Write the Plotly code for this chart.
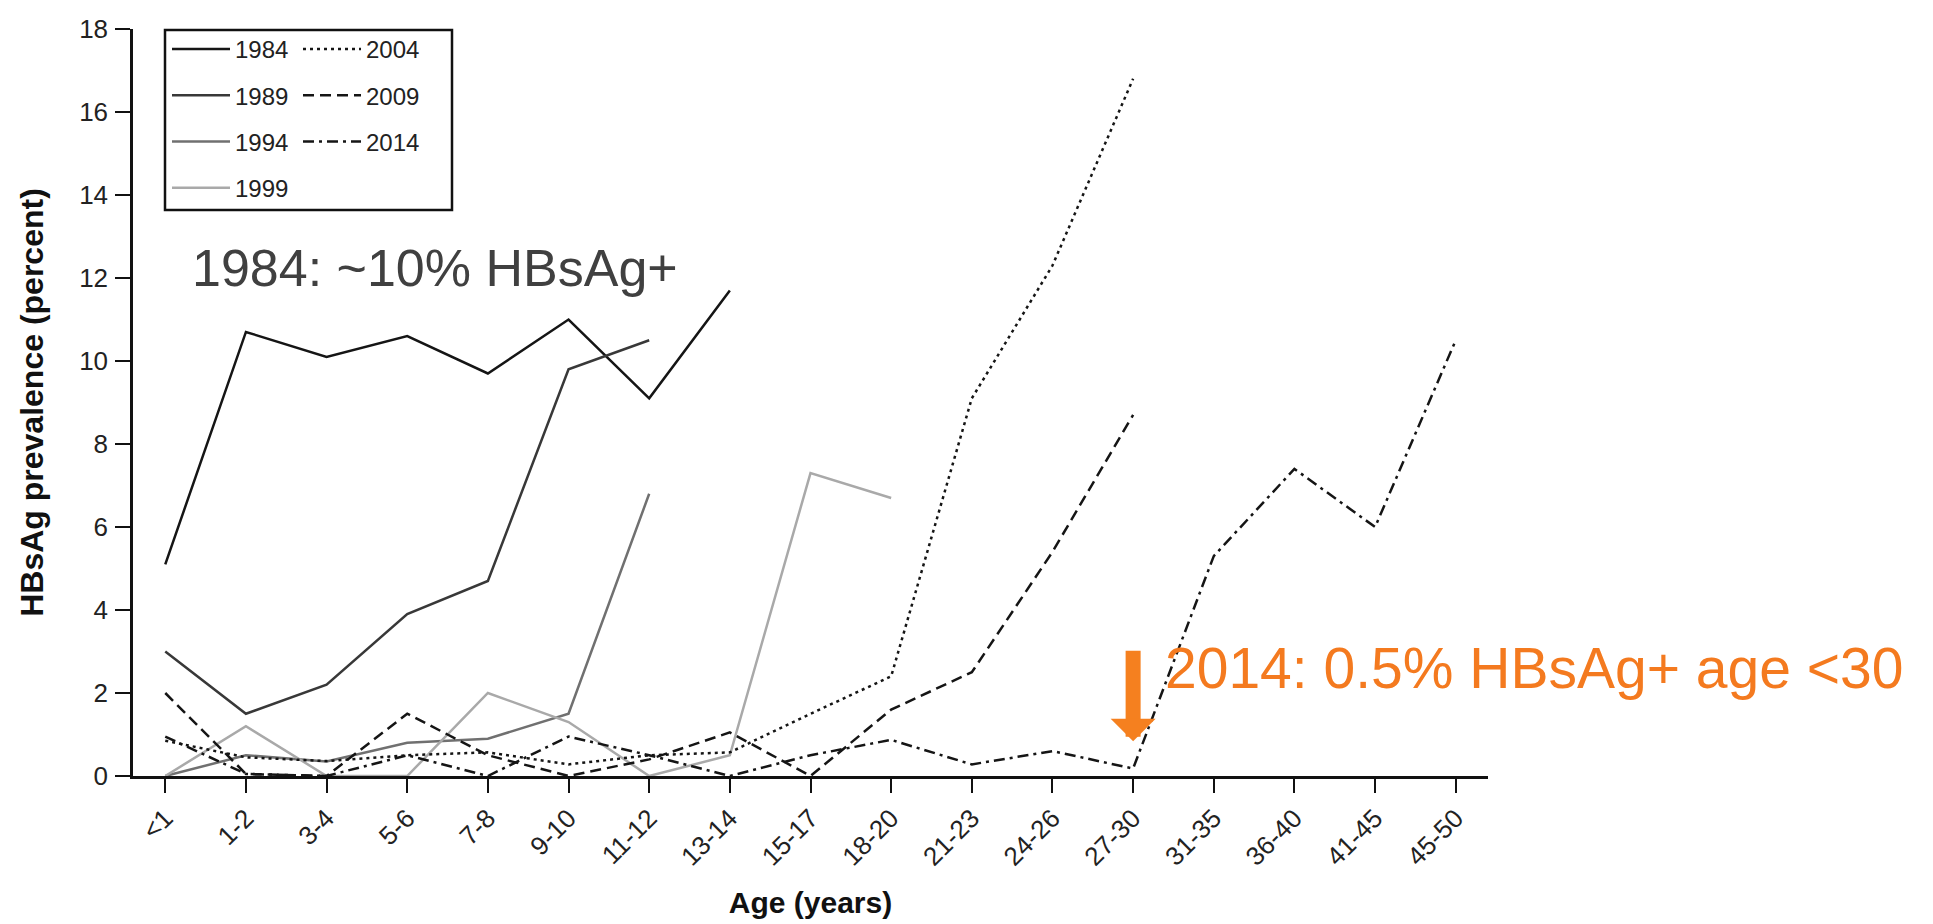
import plotly.graph_objects as go

categories = ["<1", "1-2", "3-4", "5-6", "7-8", "9-10", "11-12", "13-14", "15-17",
              "18-20", "21-23", "24-26", "27-30", "31-35", "36-40", "41-45", "45-50"]

y1984 = [5.1, 10.7, 10.1, 10.6, 9.7, 11.0, 9.1, 11.7]
y1989 = [3.0, 1.5, 2.2, 3.9, 4.7, 9.8, 10.5]
y1994 = [0.0, 0.5, 0.35, 0.8, 0.9, 1.5, 6.8]
y1999 = [0.0, 1.2, 0.0, 0.0, 2.0, 1.3, 0.0, 0.5, 7.3, 6.7]
y2004 = [0.85, 0.45, 0.36, 0.5, 0.57, 0.28, 0.5, 0.57, 1.5, 2.4, 9.1, 12.3, 16.8]
y2009 = [2.0, 0.05, 0.0, 1.5, 0.5, 0.0, 0.4, 1.05, 0.0, 1.6, 2.5, 5.4, 8.7]
y2014 = [0.95, 0.05, 0.0, 0.5, 0.0, 0.95, 0.5, 0.0, 0.5, 0.87, 0.28, 0.6, 0.18,
         5.3, 7.4, 6.0, 10.5]

series = [
    ("1984", y1984, "#151515", "solid", "legend"),
    ("1989", y1989, "#383838", "solid", "legend"),
    ("1994", y1994, "#707070", "solid", "legend"),
    ("1999", y1999, "#a9a9a9", "solid", "legend"),
    ("2004", y2004, "#151515", "3px,4px", "legend2"),
    ("2009", y2009, "#151515", "11px,6px", "legend2"),
    ("2014", y2014, "#151515", "11px,5px,3px,5px", "legend2"),
]

FONT = "Liberation Sans, Arial, Helvetica, sans-serif"

fig = go.Figure()
for name, vals, color, dash, leg in series:
    fig.add_trace(go.Scatter(
        x=categories[:len(vals)], y=vals, name=name, mode="lines",
        line=dict(color=color, width=2.5, dash=dash),
        legend=leg, legendgroup=name,
    ))

W, H = 1933, 924
L, R, T, B = 125, 453, 21, 156
pw, ph = W - L - R, H - T - B

def px_x(p):
    return (p - L) / pw

def px_y(p):
    return (H - B - p) / ph

legend_common = dict(yanchor="top", xanchor="left", bgcolor="rgba(0,0,0,0)", borderwidth=0,
                     font=dict(size=24, color="#222222"), tracegroupgap=12,
                     traceorder="grouped", itemwidth=58)

fig.update_layout(
    width=W, height=H,
    margin=dict(l=L, r=R, t=T, b=B, autoexpand=False),
    paper_bgcolor="white", plot_bgcolor="white",
    font=dict(family=FONT, color="#222222"),
    legend=dict(x=px_x(159), y=px_y(19), **legend_common),
    legend2=dict(x=px_x(290), y=px_y(19), **legend_common),
    showlegend=True,
)

fig.update_xaxes(
    type="category", categoryorder="array", categoryarray=categories,
    range=[-0.4, 16.4], showgrid=False, zeroline=False,
    showline=True, linecolor="#111111", linewidth=2.5,
    ticks="outside", ticklen=14, tickwidth=2, tickcolor="#111111",
    tickangle=-45, tickfont=dict(size=26, color="#222222"),
    title=dict(text="<b>Age (years)</b>", font=dict(size=30, color="#111111"), standoff=22),
    automargin=False,
)
fig.update_yaxes(
    range=[0, 18], tickvals=list(range(0, 19, 2)), showgrid=False, zeroline=False,
    showline=True, linecolor="#111111", linewidth=2.5,
    ticks="outside", ticklen=15, tickwidth=2, tickcolor="#111111",
    tickfont=dict(size=26, color="#222222"), ticklabelstandoff=2,
    title=dict(text="<b>HBsAg prevalence (percent)</b>", font=dict(size=32, color="#111111"), standoff=26),
    automargin=False,
)

# legend border
fig.add_shape(type="rect", xref="paper", yref="paper",
              x0=px_x(157), x1=px_x(444), y0=px_y(202), y1=px_y(22),
              line=dict(color="#111111", width=2.5))

fig.add_annotation(text="1984: ~10% HBsAg+", xref="paper", yref="paper",
                   x=px_x(182), y=px_y(260), xanchor="left", yanchor="middle",
                   showarrow=False, font=dict(size=52, color="#404040", family=FONT))
fig.add_annotation(text="2014: 0.5% HBsAg+ age <30", xref="paper", yref="paper",
                   x=px_x(1155), y=px_y(660), xanchor="left", yanchor="middle",
                   showarrow=False, font=dict(size=57, color="#F47A1F", family=FONT))
fig.add_annotation(text="", x="27-30", y=0.84, xref="x", yref="y",
                   showarrow=True, ax=0, ay=-92, axref="pixel", ayref="pixel",
                   arrowhead=1, arrowsize=0.5, arrowwidth=15, arrowcolor="#F5801F",
                   standoff=0)

fig.write_html("out.html")
